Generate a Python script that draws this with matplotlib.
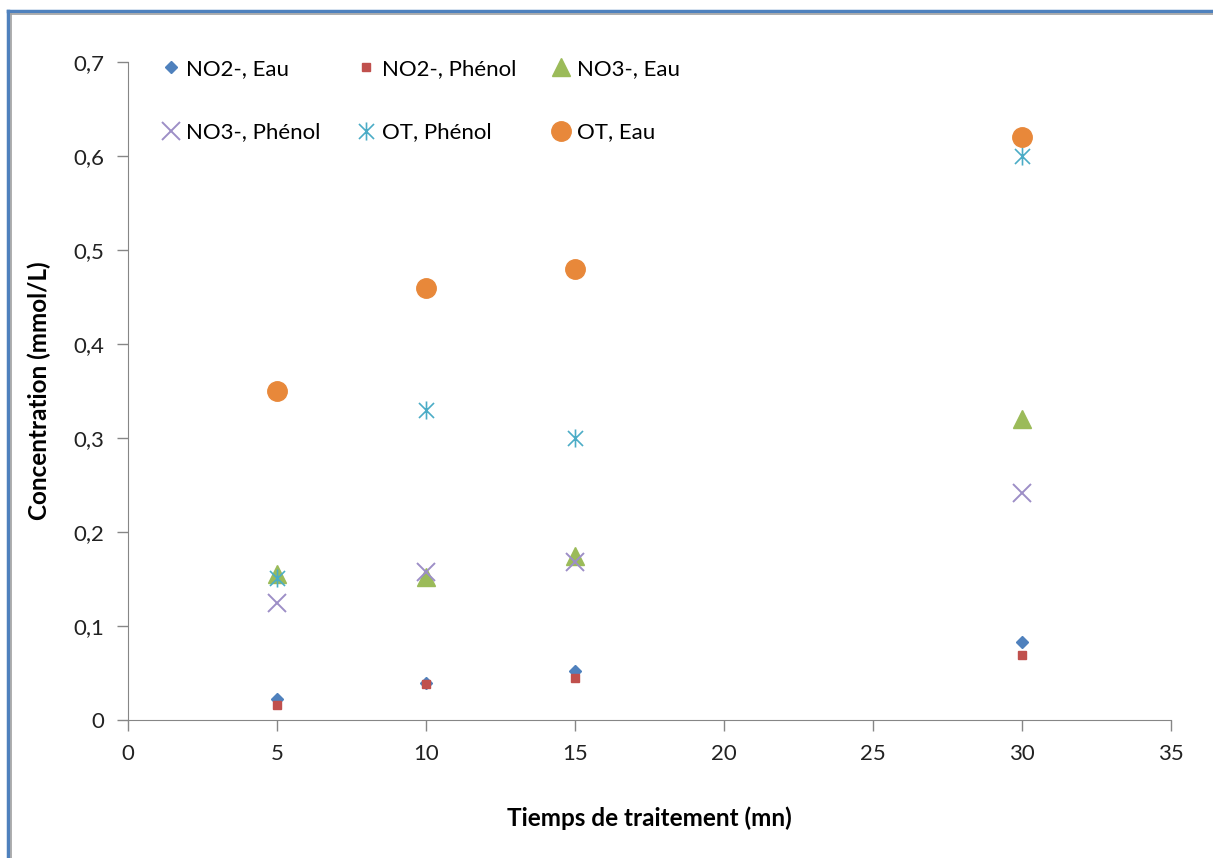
import matplotlib.pyplot as plt
from matplotlib.lines import Line2D
from matplotlib.path import Path
from matplotlib.ticker import FuncFormatter

plt.rcParams['font.family'] = ['Lato', 'DejaVu Sans']

# treatment times (mn) and measured concentrations (mmol/L)
temps = [5, 10, 15, 30]
no2_eau = [0.022, 0.039, 0.052, 0.083]
no2_phenol = [0.016, 0.038, 0.045, 0.069]
no3_eau = [0.155, 0.152, 0.175, 0.32]
no3_phenol = [0.125, 0.157, 0.168, 0.242]
ot_phenol = [0.151, 0.33, 0.30, 0.60]
ot_eau = [0.35, 0.46, 0.48, 0.62]

# x with a vertical bar through it (spreadsheet-style "star" marker)
star = Path([(-1, -1), (1, 1), (-1, 1), (1, -1), (0, -1.2), (0, 1.2)],
            [Path.MOVETO, Path.LINETO, Path.MOVETO, Path.LINETO, Path.MOVETO, Path.LINETO])

fig = plt.figure(figsize=(12.13, 8.58), dpi=100)
ax = fig.add_axes([128 / 1213, 1 - 720 / 858, (1171 - 128) / 1213, (720 - 62) / 858])

series = [
    (no2_eau, 'NO2-, Eau', dict(marker='D', color='#4F81BD', ms=6.5)),
    (no2_phenol, 'NO2-, Phénol', dict(marker='s', color='#C0504D', ms=6)),
    (no3_eau, 'NO3-, Eau', dict(marker='^', color='#9BBB59', ms=13)),
    (no3_phenol, 'NO3-, Phénol', dict(marker='x', color='#9D8FC7', ms=13, mew=1.4)),
    (ot_phenol, 'OT, Phénol', dict(marker=star, color='#4BACC6', ms=13, mew=1.2)),
    (ot_eau, 'OT, Eau', dict(marker='o', color='#E8883A', ms=14)),
]
handles = {}
for vals, name, style in series:
    h, = ax.plot(temps, vals, linestyle='none', label=name, **style)
    handles[name] = h

ax.set_xlim(0, 35)
ax.set_ylim(0, 0.7)
ax.set_xticks(range(0, 36, 5))
ax.set_yticks([i / 10 for i in range(8)])
ax.yaxis.set_major_formatter(FuncFormatter(lambda v, p: ('%g' % round(v, 1)).replace('.', ',')))

for side in ['top', 'right']:
    ax.spines[side].set_visible(False)
for side in ['left', 'bottom']:
    ax.spines[side].set_color('#868686')
ax.tick_params(direction='out', length=8, width=1, color='#868686',
               labelsize=16, pad=9, labelcolor='#222222')

ax.set_xlabel('Tiemps de traitement (mn)', fontsize=17.5, fontweight='bold', labelpad=31)
ax.set_ylabel('Concentration (mmol/L)', fontsize=17.5, fontweight='bold', labelpad=16)

# legend laid out in two rows of three
order = ['NO2-, Eau', 'NO3-, Phénol', 'NO2-, Phénol', 'OT, Phénol', 'NO3-, Eau', 'OT, Eau']
ax.legend([handles[n] for n in order], order, ncol=3, frameon=False, fontsize=16,
          loc='upper left', bbox_to_anchor=(0.012, 1.035), labelspacing=1.95,
          handlelength=0.9, handletextpad=0.25, columnspacing=1.6)

# frame around the chart
fig.add_artist(Line2D([8 / 1213, 1], [1 - 11 / 858] * 2, color='#4F81BD', lw=2.5))
fig.add_artist(Line2D([8 / 1213] * 2, [0, 1 - 11 / 858], color='#4F81BD', lw=2.5))
fig.add_artist(Line2D([11 / 1213, 1], [1 - 14 / 858] * 2, color='#A0A0A0', lw=1.2))
fig.add_artist(Line2D([11 / 1213] * 2, [0, 1 - 14 / 858], color='#A0A0A0', lw=1.2))

fig.savefig('out.png', dpi=100)
